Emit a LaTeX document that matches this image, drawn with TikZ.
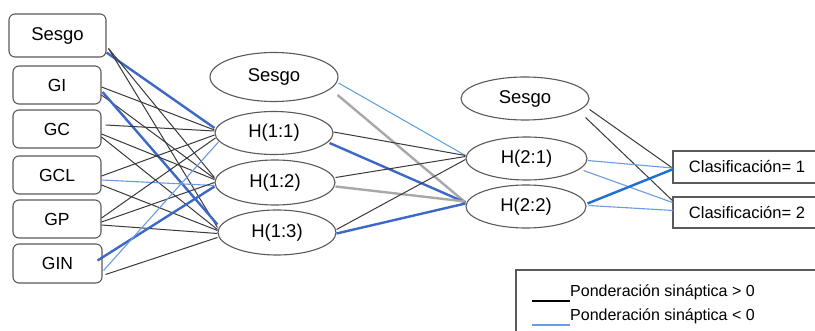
\documentclass[tikz,border=0pt]{standalone}
\usepackage{fontspec}
\setmainfont{Liberation Sans}
\usetikzlibrary{shapes.geometric,calc}
\definecolor{bordc}{HTML}{5A5A5A}
\definecolor{posc}{HTML}{3A3A3A}
\definecolor{negthick}{HTML}{3D68C8}
\definecolor{negthin}{HTML}{6C9BE2}
\definecolor{neglight}{HTML}{5AA0DE}
\definecolor{grayc}{HTML}{A8A8A8}
\definecolor{negbright}{HTML}{1E6FD2}
\begin{document}
\begin{tikzpicture}[x=1pt,y=-1pt,
 inbox/.style={draw=bordc, line width=1.1pt, rounded corners=6pt, fill=white, inner sep=0pt, font=\fontsize{17.5}{19}\selectfont},
 neuron/.style={draw=bordc, line width=1.1pt, ellipse, fill=white, inner sep=0pt, font=\fontsize{18.5}{20}\selectfont},
 outbox/.style={draw=bordc, line width=1.1pt, fill=white, inner sep=0pt, font=\fontsize{16.5}{18}\selectfont},
 big/.style={font=\fontsize{18.5}{20}\selectfont},
 posw/.style={draw=posc, line width=1pt},
 negw/.style={draw=negthick, line width=2.4pt},
 negt/.style={draw=negthin, line width=1.1pt},
 negl/.style={draw=neglight, line width=1pt},
 negb/.style={draw=negbright, line width=2.4pt},
 grayw/.style={draw=grayc, line width=2.4pt},
 legtext/.style={anchor=base west, inner sep=0pt, font=\fontsize{16}{18}\selectfont},
]
\clip (0,0) rectangle (815,331);
\fill[white] (0,0) rectangle (815,331);

% input layer
\node[inbox,big,minimum width=97pt,minimum height=43pt] (sin) at (57.5,35.5) {Sesgo};
\node[inbox,minimum width=88pt,minimum height=38pt] (gi) at (57,85) {GI};
\node[inbox,minimum width=88pt,minimum height=38pt] (gc) at (57,129) {GC};
\node[inbox,minimum width=88pt,minimum height=38pt] (gcl) at (57,175) {GCL};
\node[inbox,minimum width=88pt,minimum height=38pt] (gp) at (57,219) {GP};
\node[inbox,minimum width=89pt,minimum height=39pt] (gin) at (57.5,263.5) {GIN};

% hidden layer 1
\node[neuron,minimum width=128pt,minimum height=49pt] (s1) at (274,77) {Sesgo};
\node[neuron,minimum width=118pt,minimum height=43pt] (h11) at (274,133) {H(1:1)};
\node[neuron,minimum width=120pt,minimum height=45pt] (h12) at (275,182.5) {H(1:2)};
\node[neuron,minimum width=118pt,minimum height=45pt] (h13) at (277,232.5) {H(1:3)};

% hidden layer 2
\node[neuron,minimum width=128pt,minimum height=43pt] (s2) at (525,98.5) {Sesgo};
\node[neuron,minimum width=121pt,minimum height=43pt] (h21) at (526.5,158.5) {H(2:1)};
\node[neuron,minimum width=120pt,minimum height=43pt] (h22) at (526,206.5) {H(2:2)};

% outputs
\node[outbox,minimum width=148pt,minimum height=32pt] (c1) at (747,167) {Clasificación= 1};
\node[outbox,minimum width=148pt,minimum height=31pt] (c2) at (747,212.5) {Clasificación= 2};

% input -> hidden 1
\draw[negw] ($(sin.south east)+(0,-5)$) -- ($(h11.west)+(0,-5)$);
\draw[posw] ($(sin.south east)+(2,-9)$) -- ($(h12.west)+(0,-5)$);
\draw[posw] ($(sin.south east)+(2,-9)$) -- ($(h13.west)+(0,-5)$);

\draw[posw] ($(gi.east)+(0,2)$) -- ($(h11.west)+(0,-3)$);
\draw[posw] ($(gi.east)+(0,10)$) -- ($(h12.west)+(0,-4)$);
\draw[negw] ($(gi.east)+(1,7)$) -- ($(h13.west)+(0,-8)$);

\draw[posw] ($(gc.east)+(4,-4)$) -- ($(h11.west)+(0,-2)$);
\draw[posw] ($(gc.east)+(0,5)$) -- ($(h12.west)+(0,-3)$);
\draw[posw] ($(gc.east)+(0,8)$) -- ($(h13.west)+(0,-3)$);

\draw[posw] ($(gcl.east)+(0,1)$) -- ($(h11.west)+(0,2)$);
\draw[negt] ($(gcl.east)+(0,5)$) -- ($(h12.west)+(0,3)$);
\draw[posw] ($(gcl.east)+(0,10)$) -- ($(h13.west)+(0,-2)$);

\draw[posw] ($(gp.east)+(0,-1)$) -- ($(h11.west)+(1,5)$);
\draw[posw] ($(gp.east)+(0,3)$) -- ($(h12.west)+(0,0)$);
\draw[posw] ($(gp.east)+(0,6)$) -- ($(h13.west)+(0,1)$);

\draw[negw] ($(gin.east)+(-5,-3)$) -- ($(h12.west)+(0,4)$);
\draw[negt] ($(gin.east)+(1,7)$) -- ($(h11.west)+(4,9)$);
\draw[posw] ($(gin.east)+(3,11)$) -- ($(h13.west)+(0,5)$);

% hidden 1 -> hidden 2
\draw[negl] ($(s1.east)+(0,6)$) -- ($(h21.west)+(0,-3)$);
\draw[grayw] ($(s1.east)+(-1,18)$) -- ($(h22.west)+(0,-4)$);
\draw[posw] ($(h11.east)+(0,-1)$) -- ($(h21.west)+(0,-3)$);
\draw[negw] ($(h11.east)+(-4,10)$) -- ($(h22.west)+(0,-4)$);
\draw[posw] ($(h12.east)+(0,-5)$) -- ($(h21.west)+(0,-2)$);
\draw[grayw] ($(h12.east)+(0,4)$) -- ($(h22.west)+(0,-5)$);
\draw[posw] ($(h13.east)+(0,-3)$) -- ($(h21.west)+(0,1)$);
\draw[negw] ($(h13.east)+(0,1)$) -- ($(h22.west)+(0,-3)$);

% hidden 2 -> outputs
\draw[posw] ($(s2.east)+(0,11)$) -- ($(c1.west)+(0,1)$);
\draw[posw] ($(s2.east)+(-4,19)$) -- ($(c2.west)+(0,-12)$);
\draw[negt] ($(h21.east)+(0,2)$) -- ($(c1.west)+(0,1)$);
\draw[negt] ($(h21.east)+(-4,12)$) -- ($(c2.west)+(0,-10)$);
\draw[negb] ($(h22.east)+(1,-3)$) -- ($(c1.west)+(1,2)$);
\draw[negt] ($(h22.east)+(2,-1)$) -- ($(c2.west)+(1,-2)$);

% legend
\node[draw=bordc, line width=1.1pt, minimum width=314pt, minimum height=75pt, inner sep=0pt] (legend) at (673,307.5) {};
\node[legtext] (lab1) at (570,297) {Ponderación sináptica > 0};
\node[legtext] (lab2) at (570,321) {Ponderación sináptica < 0};
\coordinate (k1a) at (532,301);
\coordinate (k2a) at (532,325);
\draw[draw=black, line width=1.3pt] (k1a) -- ($(lab1.base west)+(0,4)$);
\draw[draw=negthin, line width=1.5pt] (k2a) -- ($(lab2.base west)+(0,4)$);
\end{tikzpicture}
\end{document}
